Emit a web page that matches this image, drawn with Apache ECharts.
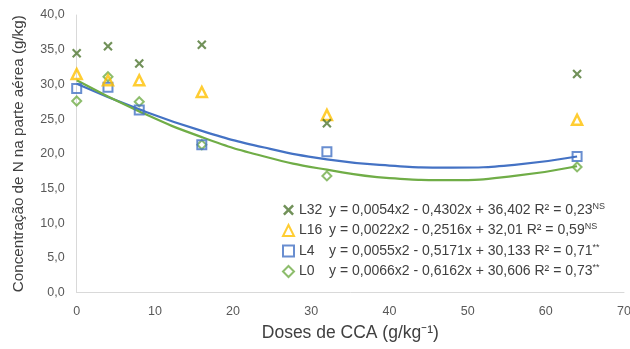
<!DOCTYPE html>
<html>
<head>
<meta charset="utf-8">
<script src="https://cdn.jsdelivr.net/npm/echarts@6/dist/echarts.min.js"></script>
<style>html,body{margin:0;padding:0;background:#fff}#c{width:630px;height:349px}</style>
</head>
<body>
<div id="c"></div>
<script>
var doses = [0, 4, 8, 16, 32, 64];
var l32 = [34.5, 35.5, 33.0, 35.7, 24.4, 31.5];
var l16 = [31.5, 30.6, 30.6, 28.9, 25.6, 24.9];
var l4  = [29.4, 29.6, 26.3, 21.3, 20.3, 19.6];
var l0  = [27.6, 31.1, 27.5, 21.3, 16.8, 18.1];
var trendX  = [0, 8, 16, 24, 32, 40, 48, 56, 64];
var trendL4 = [30.1, 26.4, 23.3, 20.9, 19.2, 18.3, 18.0, 18.4, 19.6];
var trendL0 = [30.6, 26.1, 22.4, 19.6, 17.7, 16.5, 16.2, 16.8, 18.2];
var names = ['L32', 'L16', 'L4', 'L0'];
var equations = {
  'L32': ['y = 0,0054x2 - 0,4302x + 36,402 R² = 0,23', 'NS'],
  'L16': ['y = 0,0022x2 - 0,2516x + 32,01 R² = 0,59', 'NS'],
  'L4':  ['y = 0,0055x2 - 0,5171x + 30,133 R² = 0,71', '**'],
  'L0':  ['y = 0,0066x2 - 0,6162x + 30,606 R² = 0,73', '**']
};
var xAxisTitle = 'Doses de CCA (g/kg⁻¹)';
var yAxisTitle = 'Concentração de N na parte aérea (g/kg)';

function pairs(xs, ys) { return xs.map(function (x, i) { return [x, ys[i]]; }); }

var font = 'Liberation Sans';
var xIcon = 'path://M0,1.6L1.6,0L5,3.4L8.4,0L10,1.6L6.6,5L10,8.4L8.4,10L5,6.6L1.6,10L0,8.4L3.4,5Z';

var chart = echarts.init(document.getElementById('c'), null, {renderer: 'canvas'});
chart.setOption({
  animation: false,
  textStyle: {fontFamily: font},
  grid: {left: 76.7, right: 6, top: 15, bottom: 56.5, containLabel: false, outerBoundsMode: 'none'},
  xAxis: {
    type: 'value', min: 0, max: 70, interval: 10,
    axisLine: {show: true, lineStyle: {color: '#d9d9d9', width: 1}},
    axisTick: {show: false}, splitLine: {show: false},
    axisLabel: {color: '#595959', fontSize: 12.5, margin: 13, fontFamily: font},
    name: xAxisTitle, nameLocation: 'middle', nameGap: 32,
    nameTextStyle: {color: '#404040', fontSize: 17.5, fontFamily: font}
  },
  yAxis: {
    type: 'value', min: 0, max: 40, interval: 5,
    axisLine: {show: true, lineStyle: {color: '#d9d9d9', width: 1}},
    axisTick: {show: false}, splitLine: {show: false},
    axisLabel: {color: '#595959', fontSize: 12.5, margin: 12, fontFamily: font,
      formatter: function (v) { return v.toFixed(1).replace('.', ','); }},
    name: yAxisTitle, nameLocation: 'middle', nameGap: 50,
    nameTextStyle: {color: '#404040', fontSize: 15.2, fontFamily: font}
  },
  legend: {
    data: names, orient: 'vertical', left: 277, top: 197,
    itemWidth: 11, itemHeight: 11, itemGap: 5.5,
    textStyle: {color: '#404040', fontSize: 14, fontFamily: font,
      rich: {
        nm: {width: 30, fontSize: 14, color: '#404040', fontFamily: font},
        eq: {fontSize: 14, color: '#404040', fontFamily: font},
        sup: {fontSize: 9, color: '#404040', fontFamily: font, verticalAlign: 'top', padding: [0, 0, 7, 0]}
      }},
    formatter: function (n) {
      var e = equations[n];
      return '{nm|' + n + '}{eq|' + e[0] + '}{sup|' + e[1] + '}';
    }
  },
  series: [
    {name: 'trendL4', type: 'line', data: pairs(trendX, trendL4), smooth: true, showSymbol: false,
      lineStyle: {color: '#4472C4', width: 2.2}, z: 2, silent: true},
    {name: 'trendL0', type: 'line', data: pairs(trendX, trendL0), smooth: true, showSymbol: false,
      lineStyle: {color: '#70AD47', width: 2.2}, z: 2, silent: true},
    {name: 'L0', type: 'scatter', data: pairs(doses, l0), symbol: 'diamond', symbolSize: 9,
      itemStyle: {color: 'rgba(255,255,255,0)', borderColor: '#70AD47', borderWidth: 2}, z: 3},
    {name: 'L4', type: 'scatter', data: pairs(doses, l4), symbol: 'rect', symbolSize: 9,
      itemStyle: {color: 'rgba(255,255,255,0)', borderColor: '#4472C4', borderWidth: 2}, z: 4},
    {name: 'L16', type: 'scatter', data: pairs(doses, l16), symbol: 'triangle', symbolSize: 10,
      itemStyle: {color: 'rgba(255,255,255,0)', borderColor: '#FFC000', borderWidth: 2.5}, z: 5},
    {name: 'L32', type: 'scatter', data: pairs(doses, l32), symbol: xIcon, symbolSize: 9.5,
      itemStyle: {color: '#4E7530'}, z: 6}
  ]
});
</script>
</body>
</html>
